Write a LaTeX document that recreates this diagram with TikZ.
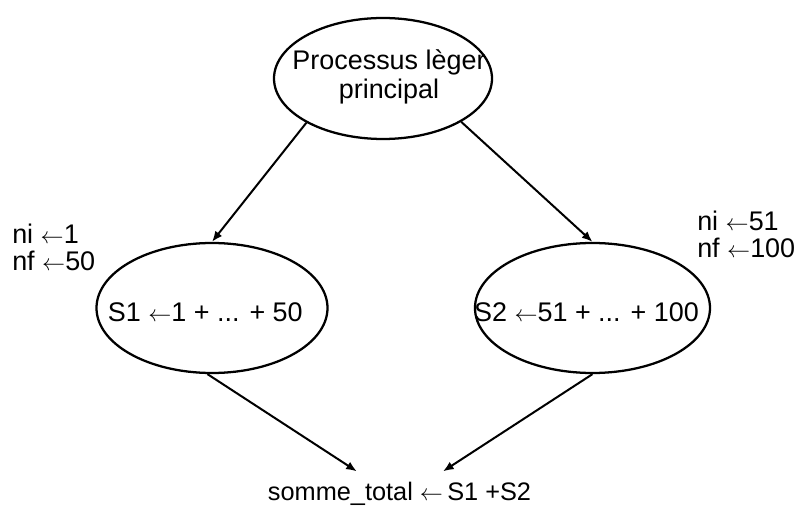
\documentclass[tikz,border=0pt]{standalone}
\usepackage{fontspec}
\setmainfont{Liberation Sans}
\DeclareMathSizes{20.2}{17.28}{12}{10}
\DeclareMathSizes{19}{17.28}{12}{10}
\usetikzlibrary{shapes.geometric,arrows.meta}
\newcommand{\la}{$\leftarrow$}
\newcommand{\zw}[1]{\makebox[0pt]{#1}}
\tikzset{
  x=0.75pt, y=-0.75pt,
  txt/.style={font=\fontsize{20.2}{21.75}\selectfont},
  proc/.style={ellipse, draw, line width=1.7pt, inner sep=0pt, txt},
  lowtxt/.style={text height=21pt, text depth=0pt},
  lbl/.style={inner sep=0pt, anchor=base west, txt},
  conn/.style={line width=1.5pt, -{Latex[length=8pt,width=6.5pt]}}
}
\begin{document}
\begin{tikzpicture}
\useasboundingbox (0,0) rectangle (801,506);
\node[proc, minimum width=163.5pt, minimum height=90.75pt] (top) at (383,78.5)
  {\zw{\kern9pt\begin{tabular}{@{}c@{}}Processus lèger\\principal\end{tabular}}};
\node[proc, lowtxt, minimum width=173.25pt, minimum height=97.5pt] (s1) at (212,308) {\zw{\kern-10pt S1 \la1 + ... + 50}};
\node[proc, lowtxt, minimum width=176.25pt, minimum height=97.5pt] (s2) at (592.5,308) {\zw{\kern-9pt S2 \la51 + ... + 100}};
\node[inner sep=0pt, anchor=base, font=\fontsize{19}{21}\selectfont] (sum) at (399.5,500) {somme\_total \la\,S1 +S2};
\node[lbl] (ni1) at (12,244) {ni \la1};
\node[lbl] (nf1) at (12,271) {nf \la50};
\node[lbl] (ni2) at (697,231) {ni \la51};
\node[lbl] (nf2) at (697,258) {nf \la100};
\draw[conn] (top.210) -- (s1.north);
\draw[conn] (top.331) -- (s2.north);
\draw[conn] (s1.266) -- ([xshift=-32pt,yshift=7.5pt]sum.north);
\draw[conn] (s2.south) -- ([xshift=32.6pt,yshift=7.5pt]sum.north);
\end{tikzpicture}
\end{document}
